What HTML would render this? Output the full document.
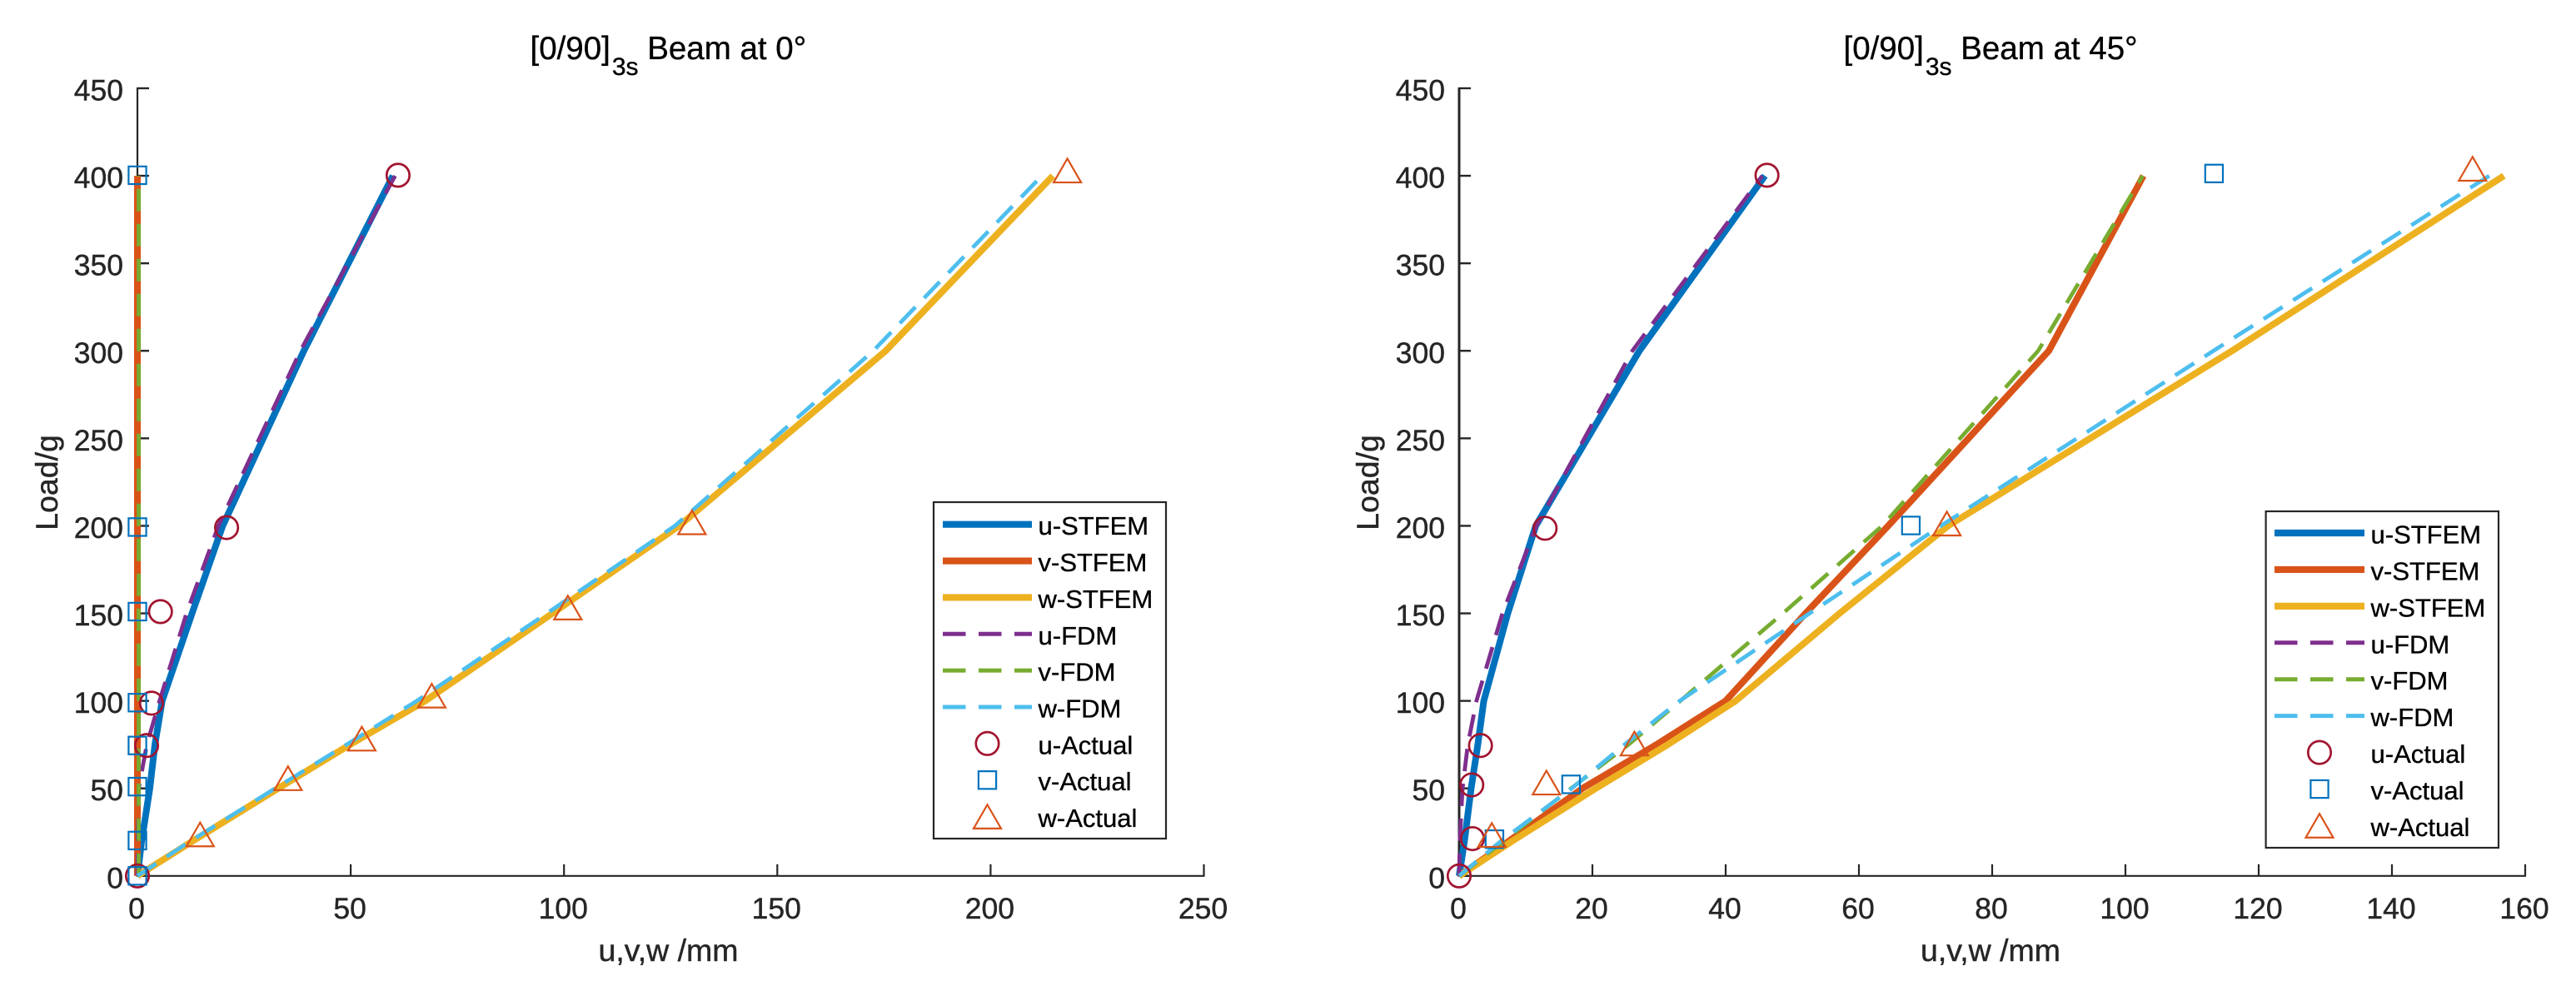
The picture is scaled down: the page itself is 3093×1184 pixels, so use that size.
<!DOCTYPE html>
<html lang="en">
<head>
<meta charset="utf-8">
<title>[0/90]3s Beam load-displacement charts</title>
<style>
html,body{margin:0;padding:0;background:#fff;width:3093px;height:1184px;overflow:hidden}
svg{display:block}
text{font-family:"Liberation Sans",Arial,sans-serif}
</style>
</head>
<body>
<svg id="chart" xmlns="http://www.w3.org/2000/svg" width="3093" height="1184" viewBox="0 0 3093 1184"></svg>
<script>
// ---------- shared data ----------
const loads = [0, 20, 50, 75, 100, 150, 200, 300, 400];
const yTicks = [0, 50, 100, 150, 200, 250, 300, 350, 400, 450];
const seriesNames = ['u-STFEM', 'v-STFEM', 'w-STFEM', 'u-FDM', 'v-FDM', 'w-FDM', 'u-Actual', 'v-Actual', 'w-Actual'];

// ---------- left panel: beam at 0 degrees ----------
const xTicksLeft = [0, 50, 100, 150, 200, 250];
const uStfemLeft = [0, 1, 2.9, 4.1, 5.8, 12.8, 20, 39, 59.9];
const vStfemLeft = [0, 0, 0, 0, 0, 0, 0, 0, 0];
const wStfemLeft = [0, 13, 33, 49.8, 67.5, 97.3, 127, 175.4, 214.6];
const uFdmLeft = [0, 0.1, 0.3, 2.2, 5.2, 11.5, 19, 38.2, 60.4];
const vFdmLeft = [0.3, 0.3, 0.3, 0.3, 0.3, 0.3, 0.3, 0.3, 0.3];
const wFdmLeft = [0, 12.5, 32.3, 49, 65.5, 96, 126, 172.5, 212];
const uActualLeftX = [0, 2.15, 3.3, 5.4, 20.9, 61.1];
const uActualLeftY = [0, 74.5, 98.7, 151, 199, 400.3];
const vActualLeftX = [0, 0, 0, 0, 0, 0, 0, 0];
const vActualLeftY = [0, 20.2, 51, 74.5, 99, 151, 199.3, 400.3];
const wActualLeftX = [14.7, 35.3, 52.6, 69, 100.9, 130, 218];
const wActualLeftY = [23.7, 55.8, 78.4, 103, 153.3, 202, 403];

// ---------- right panel: beam at 45 degrees ----------
const xTicksRight = [0, 20, 40, 60, 80, 100, 120, 140, 160];
const uStfemRight = [0, 0.8, 1.8, 2.8, 3.7, 7.3, 11.5, 27.05, 45.9];
const vStfemRight = [0, 7.5, 18.5, 29.6, 40, 52, 64.4, 88.5, 102.7];
const wStfemRight = [0, 8, 20.5, 31.3, 41.5, 57.1, 73.4, 116, 156.8];
const uFdmRight = [0, 0.1, 0.5, 1.3, 2.6, 6.5, 11.6, 26, 45.5];
const vFdmRight = [0, 6.7, 16.8, 25.4, 33.2, 48.6, 63.5, 86.9, 102.6];
const wFdmRight = [0, 6.3, 16.9, 24.8, 33.1, 52.6, 72.3, 113.2, 154.6];
const uActualRightX = [0, 2, 1.9, 3.2, 12.9, 46.2];
const uActualRightY = [0, 21.3, 52, 74.5, 198.6, 400.3];
const vActualRightX = [5.3, 16.8, 67.8, 113.3];
const vActualRightY = [21, 52.3, 200.2, 401.3];
const wActualRightX = [4.9, 13.1, 26.3, 73.2, 152.1];
const wActualRightY = [23.4, 53.3, 75.6, 201.3, 404];

// ---------- drawing ----------
const NS = 'http://www.w3.org/2000/svg';
const svg = document.getElementById('chart');
const COLORS = {u:'#0072BD', v:'#D95319', w:'#EDB120', uf:'#7E2F8E', vf:'#77AC30', wf:'#4DBEEE', circle:'#A2142F', square:'#0072BD', tri:'#D95319'};
const AXIS = '#262626';
const yScale = v => 1051.8 - 2.1018 * v;

function mk(tag, attrs, parent) {
  const el = document.createElementNS(NS, tag);
  for (const k in attrs) el.setAttribute(k, attrs[k]);
  parent.appendChild(el);
  return el;
}
function group(parent, name) {
  const g = mk('g', {}, parent);
  
  
  return g;
}
function label(parent, name, str, attrs) {
  const t = mk('text', attrs, parent);
  t.textContent = str;
  
  
  return t;
}
function curve(parent, name, xs, ys, xScale, color, width, dashed) {
  const pts = xs.map((v, i) => xScale(v).toFixed(1) + ',' + yScale(ys[i]).toFixed(1)).join(' ');
  const attrs = {points: pts, fill: 'none', stroke: color, 'stroke-width': width, 'stroke-linejoin': 'round'};
  if (dashed) attrs['stroke-dasharray'] = '27 15';
  const p = mk('polyline', attrs, parent);
  
  
}
function circleAt(parent, name, cx, cy) {
  const c = mk('circle', {cx: cx, cy: cy, r: 13.7, fill: 'none', stroke: COLORS.circle, 'stroke-width': 2.7}, parent);
  
  
}
function squareAt(parent, name, cx, cy) {
  const r = mk('rect', {x: cx - 10.6, y: cy - 10.6, width: 21.2, height: 21.2, fill: 'none', stroke: COLORS.square, 'stroke-width': 2.2}, parent);
  
  
}
function triangleAt(parent, name, cx, cy) {
  const pts = cx + ',' + (cy - 14.3) + ' ' + (cx - 16.5) + ',' + (cy + 14.3) + ' ' + (cx + 16.5) + ',' + (cy + 14.3);
  const p = mk('polygon', {points: pts, fill: 'none', stroke: COLORS.tri, 'stroke-width': 2.2}, parent);
  
  
}

function drawPanel(cfg) {
  const panel = group(svg, cfg.id + '-panel');
  const xScale = v => cfg.x0 + cfg.pxPerUnit * v;

  // title
  const title = mk('text', {x: cfg.titleX, y: 71, 'font-size': 38.5, fill: '#000', stroke: '#000', 'stroke-width': 0.35}, panel);
  
  
  title.appendChild(document.createTextNode('[0/90]'));
  const sub = mk('tspan', {'font-size': 30, dy: 19, dx: 2}, title);
  sub.textContent = '3s';
  const rest = mk('tspan', {dy: -19}, title);
  rest.textContent = ' Beam at ' + cfg.angle;

  // axes
  const axes = group(panel, 'axes');
  const yLine = mk('line', {x1: cfg.x0, x2: cfg.x0, y1: yScale(450) - 1, y2: yScale(0) + 1, stroke: AXIS, 'stroke-width': cfg.axisW}, axes);
  
  
  const xMax = cfg.xTicks[cfg.xTicks.length - 1];
  const xLine = mk('line', {x1: cfg.x0, x2: xScale(xMax) + 1, y1: yScale(0), y2: yScale(0), stroke: AXIS, 'stroke-width': 2.2}, axes);
  
  

  yTicks.forEach(v => {
    const t = mk('line', {x1: cfg.x0, x2: cfg.x0 + 14, y1: yScale(v), y2: yScale(v), stroke: AXIS, 'stroke-width': 2.4}, axes);
    
    
    label(axes, 'y-tick-label', String(v), {x: cfg.x0 - 17, y: yScale(v) + 14.5, 'font-size': 35.5, fill: AXIS, stroke: AXIS, 'stroke-width': 0.45, 'text-anchor': 'end'});
  });
  cfg.xTicks.forEach(v => {
    const t = mk('line', {x1: xScale(v), x2: xScale(v), y1: yScale(0), y2: yScale(0) - 14, stroke: AXIS, 'stroke-width': 2.2}, axes);
    
    
    label(axes, 'x-tick-label', String(v), {x: xScale(v) - 1, y: 1102.8, 'font-size': 35.5, fill: AXIS, stroke: AXIS, 'stroke-width': 0.45, 'text-anchor': 'middle'});
  });
  label(axes, 'x-axis-title', 'u,v,w /mm', {x: cfg.xTitleX, y: 1154, 'font-size': 37.5, fill: AXIS, stroke: AXIS, 'stroke-width': 0.45, 'text-anchor': 'middle'});
  label(axes, 'y-axis-title', 'Load/g', {x: 0, y: 0, 'font-size': 37.5, fill: AXIS, stroke: AXIS, 'stroke-width': 0.45, 'text-anchor': 'middle',
    transform: 'translate(' + cfg.yTitleX + ',579.5) rotate(-90)'});

  // series
  const lines = group(panel, 'series-lines');
  curve(lines, 'u-stfem-line', cfg.uS, loads, xScale, COLORS.u, 8, false);
  curve(lines, 'v-stfem-line', cfg.vS, loads, xScale, COLORS.v, 8, false);
  curve(lines, 'w-stfem-line', cfg.wS, loads, xScale, COLORS.w, 8, false);
  curve(lines, 'u-fdm-line', cfg.uF, loads, xScale, COLORS.uf, 4.8, true);
  curve(lines, 'v-fdm-line', cfg.vF, loads, xScale, COLORS.vf, 4.8, true);
  curve(lines, 'w-fdm-line', cfg.wF, loads, xScale, COLORS.wf, 4.8, true);

  const marks = group(panel, 'series-markers');
  cfg.uAx.forEach((v, i) => circleAt(marks, 'u-actual-marker', xScale(v), yScale(cfg.uAy[i])));
  cfg.vAx.forEach((v, i) => squareAt(marks, 'v-actual-marker', xScale(v), yScale(cfg.vAy[i])));
  cfg.wAx.forEach((v, i) => triangleAt(marks, 'w-actual-marker', xScale(v), yScale(cfg.wAy[i])));

  // legend
  const lg = group(panel, 'legend');
  const box = mk('rect', {x: cfg.lg.x, y: cfg.lg.y, width: cfg.lg.w, height: cfg.lg.h, fill: '#fff', stroke: AXIS, 'stroke-width': 2.2}, lg);
  
  
  const lineColors = [COLORS.u, COLORS.v, COLORS.w, COLORS.uf, COLORS.vf, COLORS.wf];
  seriesNames.forEach((name, i) => {
    const rowY = cfg.lg.row0 + i * cfg.lg.step;
    const entry = group(lg, 'legend-entry');
    if (i < 3) {
      const l = mk('line', {x1: cfg.lg.lx1, x2: cfg.lg.lx2, y1: rowY, y2: rowY, stroke: lineColors[i], 'stroke-width': 8.2}, entry);
      
      
    } else if (i < 6) {
      const l = mk('line', {x1: cfg.lg.lx1, x2: cfg.lg.lx2, y1: rowY, y2: rowY, stroke: lineColors[i], 'stroke-width': 5, 'stroke-dasharray': '27.5 15.5'}, entry);
      
      
    } else {
      const mx = (cfg.lg.lx1 + cfg.lg.lx2) / 2;
      if (i === 6) circleAt(entry, 'legend-circle', mx, rowY);
      if (i === 7) squareAt(entry, 'legend-square', mx, rowY);
      if (i === 8) triangleAt(entry, 'legend-triangle', mx, rowY);
    }
    label(entry, 'legend-label', name, {x: cfg.lg.tx, y: rowY + 12.5, 'font-size': 31, fill: '#000', stroke: '#000', 'stroke-width': 0.35});
  });
}

drawPanel({
  id: 'beam-0-deg', x0: 165, pxPerUnit: 5.122, axisW: 2.2, angle: '0°', titleX: 636.5, xTitleX: 802.5, yTitleX: 69,
  xTicks: xTicksLeft,
  uS: uStfemLeft, vS: vStfemLeft, wS: wStfemLeft, uF: uFdmLeft, vF: vFdmLeft, wF: wFdmLeft,
  uAx: uActualLeftX, uAy: uActualLeftY, vAx: vActualLeftX, vAy: vActualLeftY, wAx: wActualLeftX, wAy: wActualLeftY,
  lg: {x: 1121, y: 603, w: 279, h: 404, row0: 629.7, step: 43.86, lx1: 1132, lx2: 1239, tx: 1246.5}
});
drawPanel({
  id: 'beam-45-deg', x0: 1752, pxPerUnit: 8.0, axisW: 3, angle: '45°', titleX: 2213.5, xTitleX: 2390, yTitleX: 1655,
  xTicks: xTicksRight,
  uS: uStfemRight, vS: vStfemRight, wS: wStfemRight, uF: uFdmRight, vF: vFdmRight, wF: wFdmRight,
  uAx: uActualRightX, uAy: uActualRightY, vAx: vActualRightX, vAy: vActualRightY, wAx: wActualRightX, wAy: wActualRightY,
  lg: {x: 2720.6, y: 614, w: 279.4, h: 404, row0: 640, step: 43.93, lx1: 2731, lx2: 2839, tx: 2846.5}
});
</script>
</body>
</html>
